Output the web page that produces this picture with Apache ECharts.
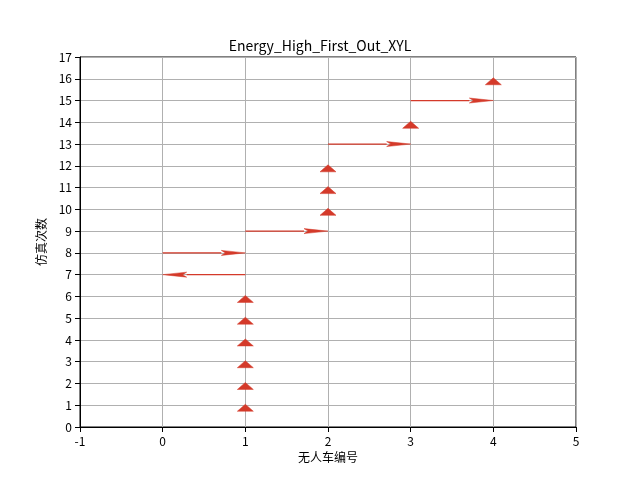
<!DOCTYPE html>
<html>
<head>
<meta charset="utf-8">
<script src="https://cdn.jsdelivr.net/npm/echarts@6/dist/echarts.min.js"></script>
<style>html,body{margin:0;background:#fff}#c{width:640px;height:480px}</style>
</head>
<body>
<div id="c"></div>
<script>
// quiver data: start x, y, x displacement
var xStart = [1, 1, 1, 1, 1, 1, 1, 0, 1, 2, 2, 2, 2, 3, 3, 4];
var yPos   = [1, 2, 3, 4, 5, 6, 7, 8, 9, 10, 11, 12, 13, 14, 15, 16];
var dx     = [0, 0, 0, 0, 0, 0, -1, 1, 1, 0, 0, 0, 1, 0, 1, 0];
var xTicks = [-1, 0, 1, 2, 3, 4, 5];
var color = '#d43a2a';
var font = '"Noto Sans CJK SC", sans-serif';

var data = xStart.map(function (x, i) { return [x, yPos[i], dx[i]]; });

var chart = echarts.init(document.getElementById('c'));
chart.setOption({
  animation: false,
  title: { text: 'Energy_High_First_Out_XYL', left: 'center', top: 34,
    textStyle: { fontFamily: font, fontWeight: 'normal', fontSize: 14, color: '#000' } },
  grid: { left: 80, right: 64, top: 57, bottom: 53, show: true, borderColor: '#000', borderWidth: 1 },
  xAxis: { type: 'value', min: -1, max: 5, interval: 1, name: '无人车编号',
    nameLocation: 'middle', nameGap: 22,
    nameTextStyle: { fontFamily: font, fontSize: 12, color: '#000' },
    axisLine: { onZero: false, lineStyle: { color: '#000' } },
    axisTick: { lineStyle: { color: '#000' } },
    axisLabel: { fontFamily: font, color: '#000', fontSize: 12 },
    splitLine: { lineStyle: { color: '#b0b0b0' } } },
  yAxis: { type: 'value', min: 0, max: 17, interval: 1, name: '仿真次数',
    nameLocation: 'middle', nameGap: 28,
    nameTextStyle: { fontFamily: font, fontSize: 12, color: '#000' },
    axisLine: { show: true, onZero: false, lineStyle: { color: '#000' } },
    axisTick: { show: true, lineStyle: { color: '#000' } },
    axisLabel: { fontFamily: font, color: '#000', fontSize: 12 },
    splitLine: { lineStyle: { color: '#b0b0b0' } } },
  series: [{
    type: 'custom',
    data: data,
    renderItem: function (params, api) {
      var p0 = api.coord([api.value(0), api.value(1)]);
      var d = api.value(2);
      var style = { fill: color, stroke: color, lineWidth: 0.5 };
      if (d === 0) {
        return { type: 'polygon', shape: { points: [[p0[0] - 8, p0[1] + 6], [p0[0] + 8, p0[1] + 6], [p0[0], p0[1] - 1]] }, style: style };
      }
      var p1 = api.coord([api.value(0) + d, api.value(1)]);
      var s = d > 0 ? 1 : -1;
      var hl = 24;
      return { type: 'group', children: [
        { type: 'line', shape: { x1: p0[0], y1: p0[1], x2: p1[0] - s * hl, y2: p1[1] }, style: { stroke: color, lineWidth: 1.2 } },
        { type: 'polygon', shape: { points: [[p1[0], p1[1]], [p1[0] - s * hl, p1[1] - 2.5], [p1[0] - s * (hl - 4), p1[1]], [p1[0] - s * hl, p1[1] + 2.5]] }, style: style }
      ] };
    }
  }]
});
</script>
</body>
</html>
